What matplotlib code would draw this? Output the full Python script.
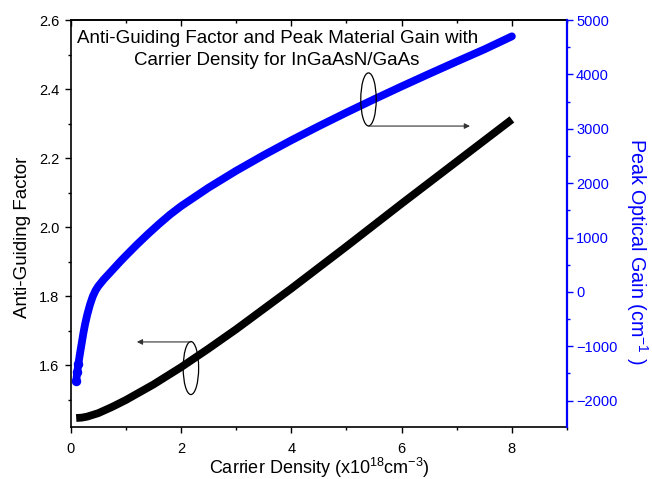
import matplotlib
matplotlib.use('Agg')
import matplotlib.pyplot as plt
from matplotlib.patches import Ellipse
from matplotlib.ticker import MultipleLocator

plt.rcParams['font.family'] = ['Liberation Sans', 'DejaVu Sans']
plt.rcParams['mathtext.fontset'] = 'custom'
plt.rcParams['mathtext.rm'] = 'Liberation Sans'

# carrier density (x1e18 cm^-3) and anti-guiding factor
density_agf = [0.1, 0.2, 0.3, 0.5, 0.75, 1.0, 1.5, 2.0, 2.5, 3.0, 4.0, 5.0, 6.0, 7.0, 8.0]
agf = [1.447, 1.448, 1.451, 1.461, 1.479, 1.499, 1.544, 1.594, 1.648, 1.704,
       1.822, 1.944, 2.068, 2.190, 2.312]

# peak optical gain (cm^-1)
density_gain = [0.1, 0.12, 0.14, 0.16, 0.18, 0.2, 0.23, 0.26, 0.3, 0.35, 0.4,
                0.45, 0.5, 0.6, 0.71, 0.8, 0.9, 1.0, 1.2, 1.4, 1.6, 1.8, 2.0,
                2.5, 3.0, 3.5, 4.0, 4.5, 5.0, 5.5, 6.0, 6.5, 7.0, 7.5, 8.0]
gain = [-1640, -1470, -1320, -1190, -1065, -945, -760, -600, -420, -235, -85,
        25, 105, 230, 350, 450, 560, 665, 869, 1063, 1247, 1421, 1576,
        1917, 2227, 2515, 2788, 3048, 3299, 3542, 3779, 4010, 4237, 4460, 4700]

BLUE = '#0000ff'
FS_LABEL = 13.5

fig = plt.figure(figsize=(6.52, 4.79), dpi=100)
ax = fig.add_axes([0.1084, 0.1079, 0.7613, 0.8503])
ax2 = ax.twinx()

ax.plot(density_agf, agf, color='black', lw=5.6,
        solid_capstyle='butt', solid_joinstyle='round', zorder=3)
ax2.plot(density_gain, gain, color=BLUE, lw=5.6, marker='o', ms=5.8,
         markevery=[0, 1, 2], solid_capstyle='round',
         solid_joinstyle='round', zorder=3)

ax.set_xlim(0, 9)
ax.set_ylim(1.42, 2.6)
ax2.set_ylim(-2490, 5000)

ax.xaxis.set_major_locator(MultipleLocator(2))
ax.xaxis.set_minor_locator(MultipleLocator(1))
ax.yaxis.set_major_locator(MultipleLocator(0.2))
ax.yaxis.set_minor_locator(MultipleLocator(0.1))
ax2.yaxis.set_major_locator(MultipleLocator(1000))
ax2.yaxis.set_minor_locator(MultipleLocator(500))

ax.tick_params(axis='both', which='major', direction='out', length=4.5, width=1,
               labelsize=10.5, top=False, right=False)
ax.tick_params(axis='both', which='minor', direction='out', length=2.5, width=1,
               top=False, right=False)
ax.tick_params(axis='x', which='major', pad=6)
ax.spines['right'].set_visible(False)
for s in ['left', 'bottom', 'top']:
    ax.spines[s].set_linewidth(1.2)

# top axis mirror ticks pointing in
top = ax.secondary_xaxis('top')
top.xaxis.set_major_locator(MultipleLocator(2))
top.xaxis.set_minor_locator(MultipleLocator(1))
top.tick_params(which='major', direction='in', length=4.5, width=1, labeltop=False)
top.tick_params(which='minor', direction='in', length=2.5, width=1)
top.spines['top'].set_linewidth(1.2)

for s in ['left', 'bottom', 'top']:
    ax2.spines[s].set_visible(False)
ax2.spines['right'].set_color(BLUE)
ax2.spines['right'].set_linewidth(1.6)
ax2.tick_params(axis='y', which='major', direction='out', length=4.5, width=1,
                colors=BLUE, labelsize=10.5, pad=2)
ax2.tick_params(axis='y', which='minor', direction='out', length=2.5, width=1,
                colors=BLUE)

ax.set_xlabel('Carrier Density (x10$^{18}$cm$^{-3}$)', fontsize=13, va='center')
ax.xaxis.set_label_coords(0.5, -0.1)
ax.set_ylabel('Anti-Guiding Factor', fontsize=FS_LABEL, va='center')
ax.yaxis.set_label_coords(-0.097, 0.467)
ax2.set_ylabel('Peak Optical Gain (cm$^{-1}$ )', fontsize=14.2, color=BLUE,
               rotation=270, va='center')
ax2.yaxis.set_label_coords(1.141, 0.431)

ax.text(0.416, 0.927, 'Anti-Guiding Factor and Peak Material Gain with\n'
        'Carrier Density for InGaAsN/GaAs', transform=ax.transAxes,
        ha='center', va='center', fontsize=FS_LABEL, linespacing=1.4)

# ellipse + arrow markers telling which axis each curve uses
ax2.add_patch(Ellipse((2.18, -1400), 0.28, 975, fill=False, lw=0.9,
                      edgecolor='black', zorder=5))
ax2.annotate('', xy=(1.2, -920), xytext=(2.18, -920),
             arrowprops=dict(arrowstyle='-|>', lw=0.8, color='#333333',
                             mutation_scale=8, shrinkA=0, shrinkB=0), zorder=5)
ax2.add_patch(Ellipse((5.4, 3540), 0.28, 975, fill=False, lw=0.9,
                      edgecolor='black', zorder=5))
ax2.annotate('', xy=(7.24, 3050), xytext=(5.4, 3050),
             arrowprops=dict(arrowstyle='-|>', lw=0.8, color='#333333',
                             mutation_scale=8, shrinkA=0, shrinkB=0), zorder=5)

fig.savefig('out.png', dpi=100)
